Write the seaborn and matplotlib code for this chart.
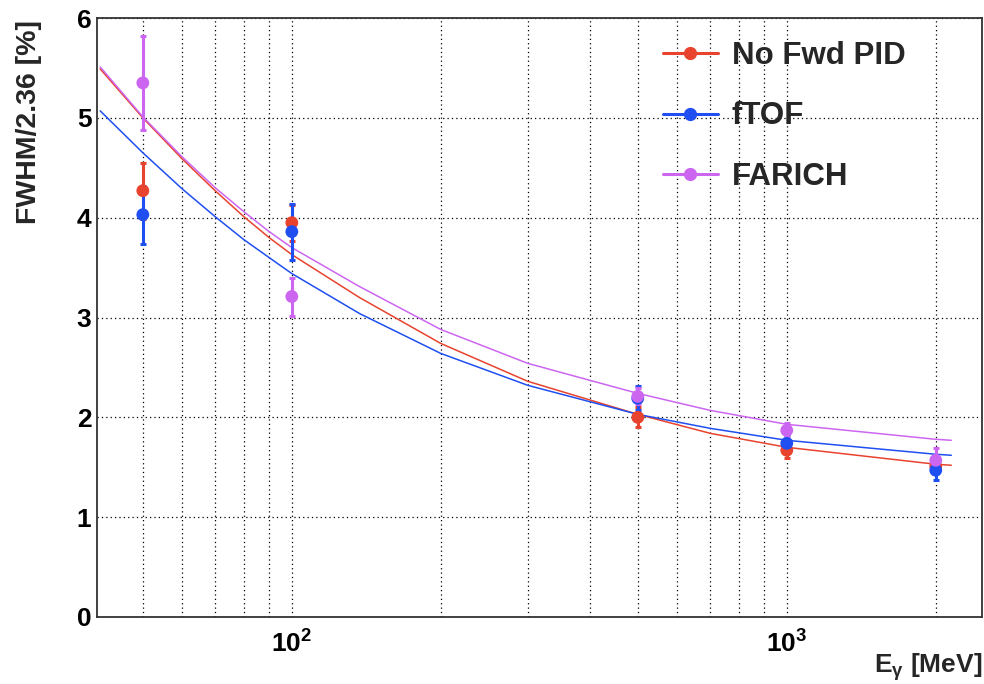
import numpy as np
import pandas as pd
import matplotlib
matplotlib.use("Agg")
import matplotlib.pyplot as plt
from matplotlib.ticker import FixedLocator, FixedFormatter, NullFormatter, MultipleLocator
from matplotlib.lines import Line2D
import seaborn as sns

# ---------------- data ----------------
series_names = ["No Fwd PID", "fTOF", "FARICH"]
series_colors = ["#E8432E", "#1F4FF0", "#CC66F0"]

energy_pts = [50, 100, 500, 1000, 2000]
nofwd_val = [4.27, 3.95, 2.00, 1.67, 1.51]
nofwd_err = [0.28, 0.18, 0.10, 0.08, 0.07]
ftof_val = [4.03, 3.86, 2.19, 1.74, 1.47]
ftof_err = [0.29, 0.28, 0.12, 0.08, 0.10]
farich_val = [5.35, 3.21, 2.21, 1.87, 1.57]
farich_err = [0.47, 0.19, 0.08, 0.07, 0.12]

fit_energy = [41, 50, 60, 70, 80, 90, 100, 137, 200, 300, 500, 700, 1000, 2000, 2150]
fit_nofwd = [5.49, 5.00, 4.59, 4.27, 4.01, 3.80, 3.63, 3.20, 2.74, 2.36, 2.03, 1.84, 1.70, 1.53, 1.52]
fit_ftof = [5.07, 4.65, 4.29, 4.01, 3.78, 3.60, 3.44, 3.04, 2.64, 2.32, 2.03, 1.89, 1.77, 1.63, 1.62]
fit_farich = [5.51, 5.01, 4.61, 4.30, 4.06, 3.86, 3.70, 3.31, 2.88, 2.54, 2.24, 2.07, 1.93, 1.78, 1.77]

x_major = [100, 1000]
x_major_labels = [r"$10^{2}$", r"$10^{3}$"]
x_minor = [50, 60, 70, 80, 90, 200, 300, 400, 500, 600, 700, 800, 900, 2000]
y_major = [0, 1, 2, 3, 4, 5, 6]
y_major_labels = ["0", "1", "2", "3", "4", "5", "6"]

xlabel = r"E$_{\gamma}$ [MeV]"
ylabel = "FWHM/2.36 [%]"

# ---------------- style ----------------
sns.set_theme(style="white")
plt.rcParams["font.family"] = ["Liberation Sans", "DejaVu Sans"]
plt.rcParams["font.weight"] = "bold"
plt.rcParams["mathtext.fontset"] = "custom"
plt.rcParams["mathtext.rm"] = "Liberation Sans:bold"
plt.rcParams["mathtext.it"] = "Liberation Sans:bold"
plt.rcParams["mathtext.bf"] = "Liberation Sans:bold"
plt.rcParams["mathtext.default"] = "regular"

fig = plt.figure(figsize=(9.84, 6.84), dpi=100)
ax = fig.add_axes([97 / 984, 1 - 617 / 684, 885 / 984, 599 / 684])

# fit curves
fit_df = pd.concat([
    pd.DataFrame({"E": fit_energy, "val": fit_nofwd, "series": series_names[0]}),
    pd.DataFrame({"E": fit_energy, "val": fit_ftof, "series": series_names[1]}),
    pd.DataFrame({"E": fit_energy, "val": fit_farich, "series": series_names[2]}),
])
sns.lineplot(data=fit_df, x="E", y="val", hue="series", palette=series_colors,
             hue_order=series_names, linewidth=1.1, legend=False, ax=ax,
             estimator=None, sort=True, zorder=3)

# data points with error bars
pts_df = pd.concat([
    pd.DataFrame({"E": energy_pts, "val": nofwd_val, "err": nofwd_err, "series": series_names[0]}),
    pd.DataFrame({"E": energy_pts, "val": ftof_val, "err": ftof_err, "series": series_names[1]}),
    pd.DataFrame({"E": energy_pts, "val": farich_val, "err": farich_err, "series": series_names[2]}),
])
for name, col in zip(series_names, series_colors):
    d = pts_df[pts_df["series"] == name]
    ax.errorbar(d["E"], d["val"], yerr=d["err"], fmt="none", ecolor=col,
                elinewidth=2.2, capsize=2, capthick=2.2, zorder=4)
    sns.scatterplot(x=d["E"], y=d["val"], color=col, s=85, edgecolor="none",
                    legend=False, ax=ax, zorder=5)

# axes
ax.set_xscale("log")
ax.set_xlim(40.4, 2480)
ax.set_ylim(0, 6)
ax.xaxis.set_major_locator(FixedLocator(x_major))
ax.xaxis.set_major_formatter(FixedFormatter(x_major_labels))
ax.xaxis.set_minor_locator(FixedLocator(x_minor))
ax.xaxis.set_minor_formatter(NullFormatter())
ax.yaxis.set_major_locator(FixedLocator(y_major))
ax.yaxis.set_major_formatter(FixedFormatter(y_major_labels))
ax.yaxis.set_minor_locator(MultipleLocator(0.2))

ax.tick_params(axis="both", which="both", direction="in", colors="#222222",
               top=False, right=False)
ax.tick_params(axis="x", which="major", length=13, width=1.0, pad=10, labelsize=19)
ax.tick_params(axis="x", which="minor", length=6, width=1.0)
ax.tick_params(axis="y", which="major", length=13, width=1.0, pad=4, labelsize=19)
ax.tick_params(axis="y", which="minor", length=6.5, width=1.0)
for lab in ax.get_xticklabels() + ax.get_yticklabels():
    lab.set_fontweight("bold")
    lab.set_color("black")

for sp in ax.spines.values():
    sp.set_visible(True)
    sp.set_color("#333333")
    sp.set_linewidth(1.3)

ax.grid(True, which="major", axis="y", color="black", linestyle=(0, (1, 2.5)), linewidth=0.9)
ax.grid(True, which="both", axis="x", color="black", linestyle=(0, (1, 2.5)), linewidth=0.9)
ax.set_axisbelow(True)

ax.set_xlabel(xlabel, fontsize=19, fontweight="bold", loc="right")
ax.xaxis.set_label_coords(1.0, -0.058)
ax.set_ylabel(ylabel, fontsize=20.5, fontweight="bold", loc="top")
ax.yaxis.set_label_coords(-0.062, 0.997)

# legend
handles = [Line2D([0], [0], color=c, lw=2.2, marker="o", markersize=8.5) for c in series_colors]
leg = ax.legend(handles, series_names, loc="upper left", bbox_to_anchor=(0.622, 0.988),
                frameon=False, prop={"family": "Liberation Sans", "weight": "bold", "size": 22.5},
                handlelength=1.75, handletextpad=0.45, labelspacing=0.98, borderpad=0.0)

fig.savefig("out.png", dpi=100)
